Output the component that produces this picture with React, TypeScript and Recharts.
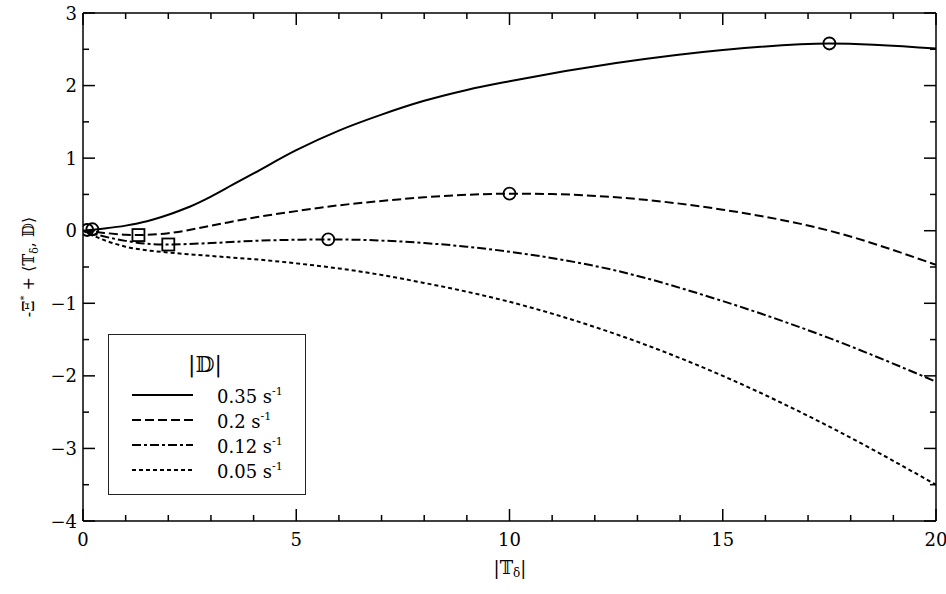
import React from 'react';
import { ComposedChart, Line, XAxis, YAxis, Legend } from 'recharts';

const FONT = "DejaVu Serif";

// Tick values
const xTicks = [0, 1, 2, 3, 4, 5, 6, 7, 8, 9, 10, 11, 12, 13, 14, 15, 16, 17, 18, 19, 20];
const yTicks = [-4, -3.5, -3, -2.5, -2, -1.5, -1, -0.5, 0, 0.5, 1, 1.5, 2, 2.5, 3];
const xMajorLabels = [0, 5, 10, 15, 20];
const yMajorLabels = [-4, -3, -2, -1, 0, 1, 2, 3];

// Series: |D| = 0.35 s^-1
const x035 = [0, 0.5, 1, 1.5, 2, 2.5, 3, 3.5, 4, 5, 6, 7, 8, 9, 10, 12.5, 15, 17.5, 20];
const y035 = [0, 0.03, 0.07, 0.13, 0.22, 0.33, 0.47, 0.63, 0.79, 1.11, 1.38, 1.6, 1.79, 1.94, 2.06, 2.31, 2.49, 2.58, 2.51];
// |D| = 0.2 s^-1
const x020 = [0, 0.5, 1, 1.3, 2, 3, 4, 5, 6, 7, 8, 9, 10, 11, 12.5, 15, 17.5, 20];
const y020 = [0, -0.03, -0.055, -0.06, -0.035, 0.07, 0.18, 0.27, 0.35, 0.41, 0.46, 0.495, 0.51, 0.505, 0.46, 0.29, 0.0, -0.47];
// |D| = 0.12 s^-1
const x012 = [0, 0.5, 1, 1.5, 2, 3, 4, 5, 5.75, 7, 8, 9, 10, 12.5, 15, 17.5, 20];
const y012 = [0, -0.08, -0.14, -0.18, -0.19, -0.17, -0.14, -0.125, -0.12, -0.135, -0.17, -0.22, -0.29, -0.55, -0.97, -1.48, -2.08];
// |D| = 0.05 s^-1
const x005 = [0, 0.25, 0.5, 0.75, 1, 1.5, 2, 2.6, 3.5, 4.15, 5, 6, 7, 8, 8.84, 10, 12.12, 15, 17.5, 20];
const y005 = [0, -0.07, -0.13, -0.18, -0.22, -0.27, -0.3, -0.33, -0.37, -0.4, -0.45, -0.52, -0.61, -0.72, -0.82, -0.98, -1.35, -2.0, -2.7, -3.5];

// Markers
const circleX = [0.1, 0.22, 5.75, 10, 17.5];
const circleY = [0.01, 0.02, -0.12, 0.51, 2.58];
const squareX = [1.3, 2.0];
const squareY = [-0.06, -0.19];

const zip = (xs: number[], ys: number[]) => xs.map((x, i) => ({ x, y: ys[i] }));

const series = [
  { name: '0.35', data: zip(x035, y035), dash: undefined as string | undefined },
  { name: '0.2', data: zip(x020, y020), dash: '9 4' },
  { name: '0.12', data: zip(x012, y012), dash: '9 3 3 3' },
  { name: '0.05', data: zip(x005, y005), dash: '4 3' },
];

const circles = zip(circleX, circleY);
const squares = zip(squareX, squareY);

const fmt = (v: number) => (v < 0 ? '\u2212' + Math.abs(v) : String(v));

const renderXTick = (p: any, side: 'top' | 'bottom') => {
  const { x, y, payload } = p;
  const v = payload.value;
  const major = xMajorLabels.includes(v);
  const len = major ? 12 : 6;
  const dir = side === 'top' ? 1 : -1;
  return (
    <g>
      <line x1={x} x2={x} y1={y} y2={y + dir * len} stroke="#000" strokeWidth={1.5} />
      {side === 'bottom' && major && (
        <text x={x} y={y + 25} textAnchor="middle" fontFamily={FONT} fontSize={18} fill="#000">
          {fmt(v)}
        </text>
      )}
    </g>
  );
};

const renderYTick = (p: any, side: 'left' | 'right') => {
  const { x, y, payload } = p;
  const v = payload.value;
  const major = yMajorLabels.includes(v);
  const len = major ? 12 : 6;
  const dir = side === 'left' ? 1 : -1;
  return (
    <g>
      <line x1={x} x2={x + dir * len} y1={y} y2={y} stroke="#000" strokeWidth={1.5} />
      {side === 'left' && major && (
        <text x={x - 6} y={y + 6.5} textAnchor="end" fontFamily={FONT} fontSize={18} fill="#000">
          {fmt(v)}
        </text>
      )}
    </g>
  );
};

const circleDot = (p: any) => (
  <circle key={`c${p.index}`} cx={p.cx} cy={p.cy} r={6} fill="none" stroke="#000" strokeWidth={1.8} />
);
const squareDot = (p: any) => (
  <rect key={`s${p.index}`} x={p.cx - 6} y={p.cy - 6} width={12} height={12} fill="none" stroke="#000" strokeWidth={1.8} />
);

const YLabel = () => {
  const cx = 34;
  const cy = 267;
  return (
    <text
      x={cx}
      y={cy}
      transform={`rotate(-90 ${cx} ${cy})`}
      textAnchor="middle"
      fontFamily={FONT}
      fontSize={16}
      fill="#000"
    >
      <tspan>-Ξ</tspan>
      <tspan fontSize={10} dy={-7}>*</tspan>
      <tspan dy={7}> + ⟨𝕋</tspan>
      <tspan fontSize={11} dy={4}>δ</tspan>
      <tspan dy={-4}>, 𝔻⟩</tspan>
    </text>
  );
};

const XLabel = () => (
  <text x={510} y={574} textAnchor="middle" fontFamily={FONT} fontSize={18} fill="#000">
    <tspan>|𝕋</tspan>
    <tspan fontSize={12} dy={3}>δ</tspan>
    <tspan dy={-3}>|</tspan>
  </text>
);

const renderLegend = () => (
  <svg width={198} height={161} style={{ display: 'block' }}>
    <rect x={0.5} y={0.5} width={197} height={160} fill="#fff" stroke="#222" strokeWidth={1} />
    <text x={97} y={38} textAnchor="middle" fontFamily={FONT} fontSize={22} fill="#000">
      |𝔻|
    </text>
    {series.map((s, i) => (
      <g key={s.name}>
        <line
          x1={24}
          x2={85}
          y1={61 + i * 25}
          y2={61 + i * 25}
          stroke="#000"
          strokeWidth={2}
          strokeDasharray={s.dash}
        />
        <text x={109} y={69 + i * 25} fontFamily={FONT} fontSize={18} fill="#000">
          <tspan>{s.name} s</tspan>
          <tspan fontSize={11} dy={-8}>-1</tspan>
        </text>
      </g>
    ))}
  </svg>
);

export default function App() {
  return (
    <div style={{ position: 'absolute', left: 0, top: 0, background: '#fff' }}>
      <ComposedChart width={946} height={594} margin={{ top: 12, right: 9, bottom: 72, left: 82 }}>
        <XAxis
          dataKey="x"
          type="number"
          domain={[0, 20]}
          ticks={xTicks}
          interval={0}
          height={1}
          tickSize={0}
          tickMargin={0}
          tickLine={false}
          axisLine={{ stroke: '#000', strokeWidth: 1.5 }}
          tick={(p: any) => renderXTick(p, 'bottom')}
          label={<XLabel />}
          allowDataOverflow
        />
        <XAxis
          xAxisId="top"
          orientation="top"
          dataKey="x"
          type="number"
          domain={[0, 20]}
          ticks={xTicks}
          interval={0}
          height={1}
          tickSize={0}
          tickMargin={0}
          tickLine={false}
          axisLine={{ stroke: '#000', strokeWidth: 1.5 }}
          tick={(p: any) => renderXTick(p, 'top')}
          allowDataOverflow
        />
        <YAxis
          type="number"
          domain={[-4, 3]}
          ticks={yTicks}
          interval={0}
          width={1}
          tickSize={0}
          tickMargin={0}
          tickLine={false}
          axisLine={{ stroke: '#000', strokeWidth: 1.5 }}
          tick={(p: any) => renderYTick(p, 'left')}
          label={<YLabel />}
          allowDataOverflow
        />
        <YAxis
          yAxisId="right"
          orientation="right"
          type="number"
          domain={[-4, 3]}
          ticks={yTicks}
          interval={0}
          width={1}
          tickSize={0}
          tickMargin={0}
          tickLine={false}
          axisLine={{ stroke: '#000', strokeWidth: 1.5 }}
          tick={(p: any) => renderYTick(p, 'right')}
          allowDataOverflow
        />
        {series.map((s) => (
          <Line
            key={s.name}
            data={s.data}
            dataKey="y"
            type="monotone"
            stroke="#000"
            strokeWidth={2}
            strokeDasharray={s.dash}
            dot={false}
            activeDot={false}
            isAnimationActive={false}
            name={s.name}
          />
        ))}
        <Line
          data={circles}
          dataKey="y"
          stroke="none"
          dot={circleDot}
          activeDot={false}
          isAnimationActive={false}
          legendType="none"
        />
        <Line
          data={squares}
          dataKey="y"
          stroke="none"
          dot={squareDot}
          activeDot={false}
          isAnimationActive={false}
          legendType="none"
        />
        <Legend
          layout="horizontal"
          verticalAlign="middle"
          align="center"
          content={renderLegend}
          wrapperStyle={{ position: 'absolute', left: 108, top: 334, width: 198, height: 161, margin: 0, padding: 0 }}
        />
      </ComposedChart>
    </div>
  );
}
